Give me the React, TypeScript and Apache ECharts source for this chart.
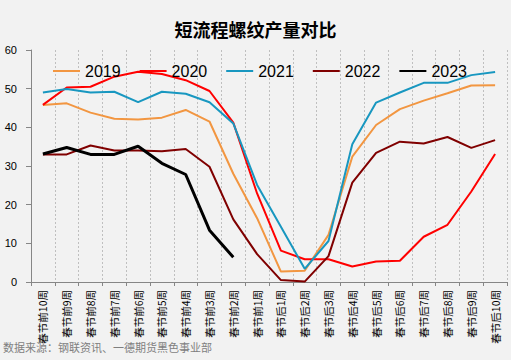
import React, { useEffect, useRef } from "react";
import * as echarts from "echarts";

const categories = [
  "春节前10周", "春节前9周", "春节前8周", "春节前7周", "春节前6周",
  "春节前5周", "春节前4周", "春节前3周", "春节前2周", "春节前1周",
  "春节后1周", "春节后2周", "春节后3周", "春节后4周", "春节后5周",
  "春节后6周", "春节后7周", "春节后8周", "春节后9周", "春节后10周",
];

const s2019 = [45.8, 46.2, 43.8, 42.2, 42.0, 42.5, 44.5, 41.5, 28.0, 16.5, 2.7, 2.9, 12.2, 32.4, 40.6, 44.7, 46.9, 48.8, 50.8, 50.9];
const s2020 = [45.8, 50.3, 50.5, 53.1, 54.4, 53.8, 52.2, 49.4, 41.2, 22.9, 8.1, 5.9, 5.9, 4.0, 5.3, 5.5, 11.7, 14.8, 23.4, 33.1];
const s2021 = [49.0, 49.9, 49.0, 49.2, 46.5, 49.2, 48.7, 46.5, 41.0, 25.1, 14.3, 3.4, 10.6, 35.6, 46.4, 49.0, 51.5, 51.5, 53.5, 54.3];
const s2022 = [33.0, 33.0, 35.3, 34.0, 34.0, 33.8, 34.4, 29.8, 16.2, 7.2, 0.5, 0.1, 6.7, 25.7, 33.4, 36.3, 35.8, 37.5, 34.7, 36.7];
const s2023 = [33.1, 34.8, 33.0, 33.0, 35.1, 30.7, 27.8, 13.4, 6.4];

const yTicks = { min: 0, max: 60, interval: 10 };

const seriesDefs = [
  { name: "2019", data: s2019, color: "#F29641", width: 2 },
  { name: "2020", data: s2020, color: "#FF0000", width: 2 },
  { name: "2021", data: s2021, color: "#1897C0", width: 2 },
  { name: "2022", data: s2022, color: "#800000", width: 2 },
  { name: "2023", data: s2023, color: "#000000", width: 3 },
];

export default function App() {
  const ref = useRef<HTMLDivElement>(null);
  useEffect(() => {
    document.body.style.margin = "0";
    if (!ref.current) return;
    const chart = echarts.init(ref.current, null, { renderer: "svg" });
    chart.setOption({
      animation: false,
      backgroundColor: "#F2F2F2",
      textStyle: { fontFamily: "Liberation Sans, Noto Sans CJK SC, sans-serif" },
      title: {
        text: "短流程螺纹产量对比",
        left: "center",
        top: 15,
        textStyle: {
          fontSize: 18,
          fontWeight: "bold",
          color: "#000",
          fontFamily: "Noto Sans CJK SC, sans-serif",
        },
      },
      legend: {
        top: 58,
        left: 47,
        itemWidth: 27,
        itemHeight: 14,
        itemGap: 18,
        itemStyle: { opacity: 0 },
        textStyle: { fontSize: 16, color: "#000", fontFamily: "Liberation Sans, sans-serif" },
        data: seriesDefs.map((s) => s.name),
      },
      grid: { left: 31, right: 4, top: 50, bottom: 78, containLabel: false },
      xAxis: {
        type: "category",
        data: categories,
        boundaryGap: true,
        axisLine: { show: true, lineStyle: { color: "#868686", width: 1 } },
        axisTick: { show: true, length: 4, lineStyle: { color: "#868686" } },
        axisLabel: {
          interval: 0,
          rotate: 90,
          margin: 8,
          fontSize: 10.5,
          color: "#000",
          fontFamily: "Noto Sans CJK SC, sans-serif",
        },
        splitLine: { show: true, lineStyle: { color: "#BFBFBF", type: [2, 2], width: 1 } },
      },
      yAxis: {
        type: "value",
        min: yTicks.min,
        max: yTicks.max,
        interval: yTicks.interval,
        axisLine: { show: true, lineStyle: { color: "#868686", width: 1 } },
        axisTick: { show: true, length: 5, lineStyle: { color: "#868686" } },
        axisLabel: { fontSize: 11, color: "#000", margin: 14 },
        splitLine: { show: false },
      },
      series: seriesDefs.map((s) => ({
        name: s.name,
        type: "line",
        data: s.data,
        symbol: "none",
        showSymbol: false,
        itemStyle: { color: s.color },
        lineStyle: { color: s.color, width: s.width },
      })),
      graphic: [
        {
          type: "text",
          left: 3,
          top: 341,
          style: {
            text: "数据来源：钢联资讯、一德期货黑色事业部",
            fontSize: 11,
            fill: "#7F7F7F",
            fontFamily: "Noto Sans CJK SC, sans-serif",
          },
        },
      ],
    });
    return () => chart.dispose();
  }, []);
  return <div ref={ref} style={{ width: 511, height: 360 }} />;
}
